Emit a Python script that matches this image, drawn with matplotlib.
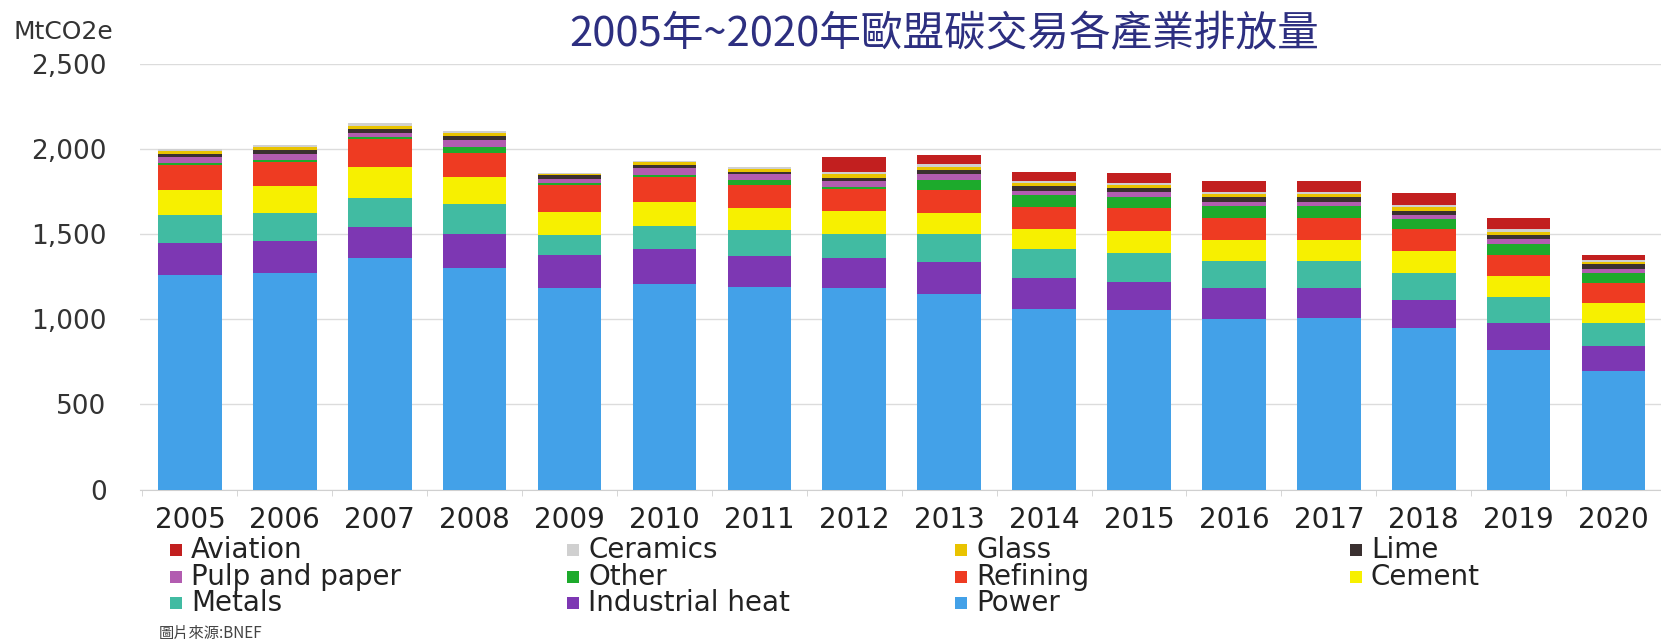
import matplotlib.pyplot as plt
import numpy as np
from matplotlib.patches import Rectangle

plt.rcParams['font.family'] = ['DejaVu Sans', 'Noto Sans CJK TC']

# --- DATA (MtCO2e, EU ETS verified emissions by sector) ---
years = [str(y) for y in range(2005, 2021)]

power           = [1261, 1274, 1359, 1304, 1185, 1206, 1192, 1186, 1146, 1062, 1052, 1003, 1010, 946, 820, 697]
industrial_heat = [190, 187, 184, 200, 192, 205, 179, 175, 191, 178, 166, 180, 176, 169, 157, 147]
metals          = [161, 166, 172, 172, 119, 138, 153, 143, 167, 171, 172, 158, 159, 158, 152, 137]
cement          = [149, 157, 181, 161, 133, 139, 131, 131, 119, 119, 126, 123, 120, 127, 125, 115]
refining        = [145, 143, 163, 143, 159, 149, 133, 133, 135, 132, 139, 131, 132, 130, 121, 116]
other           = [10, 10, 10, 30, 10, 10, 29, 10, 59, 66, 63, 68, 68, 62, 68, 61]
pulp_paper      = [35, 34, 23, 43, 29, 40, 34, 35, 34, 26, 28, 25, 25, 23, 28, 25]
lime            = [19, 23, 26, 25, 20, 20, 16, 20, 26, 29, 25, 30, 27, 23, 23, 25]
glass           = [18, 18, 20, 16, 9, 15, 17, 20, 20, 18, 16, 18, 19, 20, 21, 14]
ceramics        = [12, 12, 13, 10, 5, 10, 12, 14, 14, 12, 11, 12, 12, 14, 14, 9]
aviation        = [0, 0, 0, 0, 0, 0, 0, 85, 55, 54, 63, 65, 62, 70, 64, 29]

# stacked from the bottom up
sectors = ["Power", "Industrial heat", "Metals", "Cement", "Refining", "Other",
           "Pulp and paper", "Lime", "Glass", "Ceramics", "Aviation"]
values = [power, industrial_heat, metals, cement, refining, other,
          pulp_paper, lime, glass, ceramics, aviation]
colors = {
    "Power": "#43a1e8",
    "Industrial heat": "#7d37b3",
    "Metals": "#41bba2",
    "Cement": "#f7f000",
    "Refining": "#ee3b22",
    "Other": "#1daa2c",
    "Pulp and paper": "#b25cb0",
    "Lime": "#3a3030",
    "Glass": "#e9c300",
    "Ceramics": "#d0d0d0",
    "Aviation": "#c21f1f",
}

# legend laid out row by row, four to a row
legend_rows = [["Aviation", "Ceramics", "Glass", "Lime"],
               ["Pulp and paper", "Other", "Refining", "Cement"],
               ["Metals", "Industrial heat", "Power"]]

W, H = 1661, 644
fig = plt.figure(figsize=(W / 100, H / 100), dpi=100)
ax = fig.add_axes([140 / W, 1 - 489.5 / H, 1 - 140 / W, (489.5 - 64) / H])

x = np.arange(len(years))
bottom = np.zeros(len(years))
for name, vals in zip(sectors, values):
    ax.bar(x, vals, width=0.67, bottom=bottom, color=colors[name], linewidth=0, zorder=3)
    bottom += np.array(vals)

ax.set_xlim(-0.526, 15.48)
ax.set_ylim(0, 2500)
ax.set_yticks(range(0, 2501, 500))
ax.set_yticklabels([f"{v:,}" for v in range(0, 2501, 500)])
ax.yaxis.grid(True, color="#dcdcdc", linewidth=1, zorder=0)

ax.set_xticks(x)
ax.set_xticklabels(years)
ax.set_xticks(np.arange(-0.5, len(years), 1), minor=True)

for side in ["left", "top", "right"]:
    ax.spines[side].set_visible(False)
ax.spines["bottom"].set_color("#d0d0d0")

ax.tick_params(axis="y", length=0, pad=24, labelsize=19, labelcolor="#333333")
ax.tick_params(axis="x", which="major", length=0, pad=12, labelsize=20, labelcolor="#222222")
ax.tick_params(axis="x", which="minor", length=4, color="#d0d0d0")

# titles and unit
fig.text(13 / W, 1 - 32 / H, "MtCO2e", fontsize=18, va="center", color="#333333")
fig.text(944 / W, 1 - 35 / H, "2005年~2020年歐盟碳交易各產業排放量", fontsize=30,
         ha="center", va="center", color="#2d2f80", family=["Noto Sans CJK TC"])

# legend
col_left = [170, 567, 955, 1350]
row_y = [550, 577, 603]
for r, row in enumerate(legend_rows):
    for c, name in enumerate(row):
        x0, y0 = col_left[c], row_y[r]
        fig.add_artist(Rectangle((x0 / W, 1 - (y0 + 6) / H), 12 / W, 12 / H,
                                 transform=fig.transFigure, color=colors[name], linewidth=0))
        fig.text((x0 + 21) / W, 1 - y0 / H, name, fontsize=20, va="center", color="#222222")

fig.text(159 / W, 1 - 633 / H, "圖片來源:BNEF", fontsize=11, va="center", color="#444444",
         family=["Noto Sans CJK TC", "DejaVu Sans"])

plt.savefig("out.png", dpi=100)
